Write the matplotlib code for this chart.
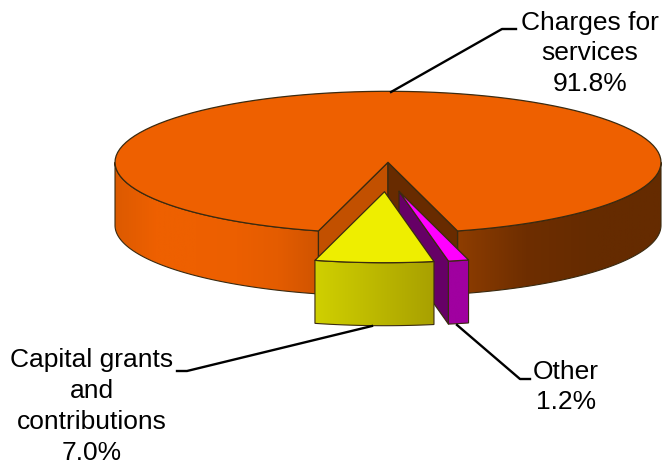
import numpy as np
import matplotlib.pyplot as plt
from matplotlib.colors import LinearSegmentedColormap
from matplotlib.patches import Polygon

labels = ['Charges for\nservices', 'Capital grants\nand\ncontributions', 'Other']
values = [91.8, 7.0, 1.2]
top_colors = ['#ee6000', '#eeee00', '#ff00ff']

cx, cy = 388, 163.3
rx, ry = 273, 71
depth = 63
offsets = [(0, 0), (-3.5, 29.4), (11, 29)]
line_color = '#3a2a10'

plt.rcParams['font.family'] = ['Liberation Sans', 'DejaVu Sans']

fig = plt.figure(figsize=(6.62, 4.64), dpi=100)
ax = fig.add_axes([0, 0, 1, 1])
ax.set_xlim(0, 662)
ax.set_ylim(464, 0)
ax.axis('off')


# angles are measured from straight down, growing to the right
def rim(a0, a1, ox=0, oy=0, n=120):
    t = np.radians(np.linspace(a0, a1, n))
    return np.column_stack([cx + ox + rx * np.sin(t), cy + oy + ry * np.cos(t)])


def outer_wall(a0, a1, colors, ox=0, oy=0, z=1):
    upper = rim(a0, a1, ox, oy)
    lower = upper[::-1] + [0, depth]
    pts = np.vstack([upper, lower])
    cmap = LinearSegmentedColormap.from_list('wall', colors)
    x0, x1 = pts[:, 0].min(), pts[:, 0].max()
    y0, y1 = pts[:, 1].min(), pts[:, 1].max()
    im = ax.imshow(np.linspace(0, 1, 256).reshape(1, -1), cmap=cmap, aspect='auto',
                   extent=[x0, x1, y1, y0], zorder=z)
    im.set_clip_path(Polygon(pts, transform=ax.transData))
    ax.add_patch(Polygon(pts, fill=False, ec=line_color, lw=0.8, zorder=z + 0.1))


def flat(pts, color, z, lw=0.9):
    ax.add_patch(Polygon(pts, fc=color, ec=line_color, lw=lw, zorder=z, joinstyle='round'))


def cut_wall(a, color, ox=0, oy=0, z=2):
    edge = rim(a, a, ox, oy, 1)[0]
    apex = np.array([cx + ox, cy + oy])
    flat([apex, edge, edge + [0, depth], apex + [0, depth]], color, z)


def top(a0, a1, color, ox=0, oy=0, z=3):
    flat(np.vstack([[cx + ox, cy + oy], rim(a0, a1, ox, oy)]), color, z)


shares = np.array(values) / sum(values) * 360
gap = shares[1] + shares[2]
main_start = gap / 2
main_end = 360 - gap / 2
yellow_end = -gap / 2 + shares[1]

# big slice
outer_wall(main_start, 90, ['#8e3d00', '#6e2e00', '#652b00', '#652b00'])
outer_wall(270, main_end, ['#dc5a00', '#ee6000', '#ee6000', '#ec5f00', '#e45c00', '#d05400'])
cut_wall(main_end, '#c25000')
cut_wall(main_start, '#682b00')
top(main_start, main_end, top_colors[0], z=3)

# other slice, pulled out
ox, oy = offsets[2]
cut_wall(yellow_end, '#660066', ox, oy, z=4)
outer_wall(yellow_end, gap / 2, ['#a000a0', '#a000a0'], ox, oy, z=4.2)
top(yellow_end, gap / 2, top_colors[2], ox, oy, z=4.4)

# capital grants slice, pulled out
ox, oy = offsets[1]
outer_wall(-gap / 2, yellow_end, ['#d0d000', '#a8a000'], ox, oy, z=5)
top(-gap / 2, yellow_end, top_colors[1], ox, oy, z=5.2)

# leader lines
ax.plot([391, 502, 516], [93, 30, 30], color='black', lw=1.7, zorder=6)
ax.plot([372, 187, 177], [327, 372, 372], color='black', lw=1.7, zorder=6)
ax.plot([457, 520, 530], [326, 380, 380], color='black', lw=1.7, zorder=6)

text_pos = [(590, 53.5), (92, 406.5), (566, 387)]
for lab, v, (tx, ty) in zip(labels, values, text_pos):
    ax.text(tx, ty, f'{lab}\n{v:.1f}%', ha='center', va='center', fontsize=19,
            color='black', linespacing=1.36, zorder=7)

fig.savefig('out.png', dpi=100)
